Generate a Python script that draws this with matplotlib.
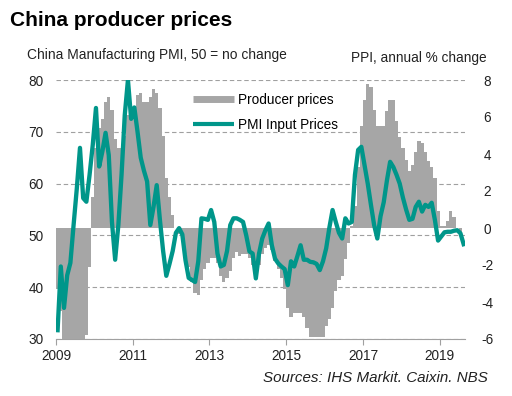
import matplotlib
matplotlib.use('Agg')
import matplotlib.pyplot as plt
import numpy as np
from matplotlib.lines import Line2D

plt.rcParams['font.family'] = ['Liberation Sans', 'DejaVu Sans']
plt.rcParams['axes.unicode_minus'] = False

start_year = 2009

# China PPI, annual % change (monthly, Jan 2009 - Jul 2019)
ppi = [
    -3.3, -4.5, -6.0, -6.6, -7.2, -7.8, -8.2, -7.9, -7.0, -5.8, -2.1, 1.7,
    4.3, 5.4, 5.9, 6.8, 7.1, 6.4, 4.8, 4.3, 4.3, 5.0, 6.1, 5.9,
    6.6, 7.2, 7.3, 6.8, 6.8, 7.1, 7.5, 7.3, 6.5, 5.0, 2.7, 1.7,
    0.7, 0.0, -0.3, -0.7, -1.4, -2.1, -2.9, -3.5, -3.6, -2.8, -2.2, -1.9,
    -1.6, -1.6, -1.9, -2.6, -2.9, -2.7, -2.3, -1.6, -1.3, -1.5, -1.4, -1.4,
    -1.6, -2.0, -2.3, -2.0, -1.4, -1.1, -0.9, -1.2, -1.8, -2.2, -2.7, -3.3,
    -4.3, -4.8, -4.6, -4.6, -4.6, -4.8, -5.4, -5.9, -5.9, -5.9, -5.9, -5.9,
    -5.3, -4.9, -4.3, -3.4, -2.8, -2.6, -1.7, -0.8, 0.1, 1.2, 3.3, 5.5,
    6.9, 7.8, 7.6, 6.4, 5.5, 5.5, 5.5, 6.3, 6.9, 6.9, 5.8, 4.9,
    4.3, 3.7, 3.1, 3.4, 4.1, 4.7, 4.6, 4.1, 3.6, 3.3, 2.7, 0.9,
    0.1, 0.1, 0.4, 0.9, 0.6, 0.0, -0.3,
]

# China Manufacturing PMI Input Prices (monthly, Jan 2009 - Aug 2019)
pmi = [
    31.7, 44.0, 36.0, 42.3, 44.7, 52.0, 59.0, 66.9, 57.2, 56.5, 61.7, 67.5,
    74.6, 63.3, 66.2, 69.8, 65.5, 52.6, 45.3, 52.0, 61.7, 73.2, 80.0, 72.5,
    74.7, 70.0, 65.0, 62.5, 60.4, 52.0, 55.5, 59.7, 53.0, 47.0, 42.2, 44.5,
    47.0, 50.5, 51.4, 50.2, 45.2, 41.8, 41.4, 41.0, 45.0, 53.3, 53.2, 53.0,
    54.9, 52.6, 46.5, 44.0, 44.3, 47.0, 52.0, 53.3, 53.3, 53.0, 52.6, 50.0,
    46.9, 46.5, 41.7, 46.5, 49.4, 51.0, 52.3, 48.1, 45.5, 44.6, 44.0, 43.5,
    40.4, 45.0, 44.0, 46.0, 48.1, 45.3, 45.3, 44.9, 44.8, 44.5, 43.3, 45.0,
    47.5, 51.5, 54.9, 52.6, 50.5, 49.4, 53.3, 52.3, 52.6, 61.7, 66.5, 67.1,
    63.5, 60.0, 55.9, 52.0, 49.4, 53.7, 56.4, 60.6, 64.2, 63.2, 61.7, 60.0,
    57.3, 55.0, 53.0, 53.2, 55.5, 56.5, 54.6, 55.9, 55.5, 56.3, 53.0, 49.0,
    49.8, 50.6, 50.7, 50.7, 50.9, 51.0, 50.4, 48.3,
]

x_ticks = [2009, 2011, 2013, 2015, 2017, 2019]
pmi_ticks = [30, 40, 50, 60, 70, 80]
ppi_ticks = [-6, -4, -2, 0, 2, 4, 6, 8]

x_ppi = start_year + (np.arange(len(ppi)) + 0.5) / 12
x_pmi = start_year + (np.arange(len(pmi)) + 0.5) / 12

teal = '#00968a'
grey = '#a6a6a6'

fig = plt.figure(figsize=(5.12, 3.96), dpi=100)
ax = fig.add_axes([56 / 512, 1 - 339 / 396, 409 / 512, 259 / 396])
ax.set_xlim(2009, 2019.66)
ax.set_ylim(30, 80)
ax.set_yticks(pmi_ticks)
ax.set_xticks(x_ticks)
ax.set_xticklabels([str(t) for t in x_ticks])
ax.grid(axis='y', linestyle=(0, (4, 2.5)), color='#a0a0a0', lw=0.8)
for s in ['top', 'left', 'right']:
    ax.spines[s].set_visible(False)
ax.spines['bottom'].set_color('#a0a0a0')
ax.tick_params(axis='y', length=0, pad=9, labelsize=9.8, colors='#222222')
ax.tick_params(axis='x', length=4, color='#a0a0a0', labelsize=9.8, pad=3,
               labelcolor='#222222')

axb = ax.twinx()
axb.set_ylim(-6, 8)
axb.bar(x_ppi, ppi, width=1.02 / 12, color=grey, linewidth=0)
axb.set_yticks(ppi_ticks)
axb.tick_params(axis='y', length=0, pad=16, labelsize=9.8, colors='#222222')
for lab in axb.get_yticklabels():
    lab.set_horizontalalignment('center')
for s in axb.spines.values():
    s.set_visible(False)

axl = ax.twinx()
axl.set_ylim(30, 80)
axl.plot(x_pmi, pmi, color=teal, lw=3.1, solid_joinstyle='round')
axl.set_yticks([])
for s in axl.spines.values():
    s.set_visible(False)

handles = [Line2D([], [], color=grey, lw=5, solid_capstyle='butt'),
           Line2D([], [], color=teal, lw=3, solid_capstyle='butt')]
axl.legend(handles, ['Producer prices', 'PMI Input Prices'], loc='upper left',
           bbox_to_anchor=(0.335, 0.95), frameon=False, handlelength=3.0,
           handletextpad=0.3, labelspacing=0.8, borderpad=0, borderaxespad=0,
           fontsize=9.8)

fig.text(10 / 512, 1 - 26 / 396, 'China producer prices', fontsize=15,
         fontweight='bold', va='baseline', ha='left')
fig.text(27 / 512, 1 - 59.5 / 396, 'China Manufacturing PMI, 50 = no change',
         fontsize=9.9, va='baseline', ha='left', color='#222222')
fig.text(487 / 512, 1 - 62 / 396, 'PPI, annual % change',
         fontsize=9.8, va='baseline', ha='right', color='#222222')
fig.text(488 / 512, 1 - 382 / 396, 'Sources: IHS Markit. Caixin. NBS',
         fontsize=10.9, style='italic', va='baseline', ha='right', color='#222222')

fig.savefig('out.png', dpi=100)
